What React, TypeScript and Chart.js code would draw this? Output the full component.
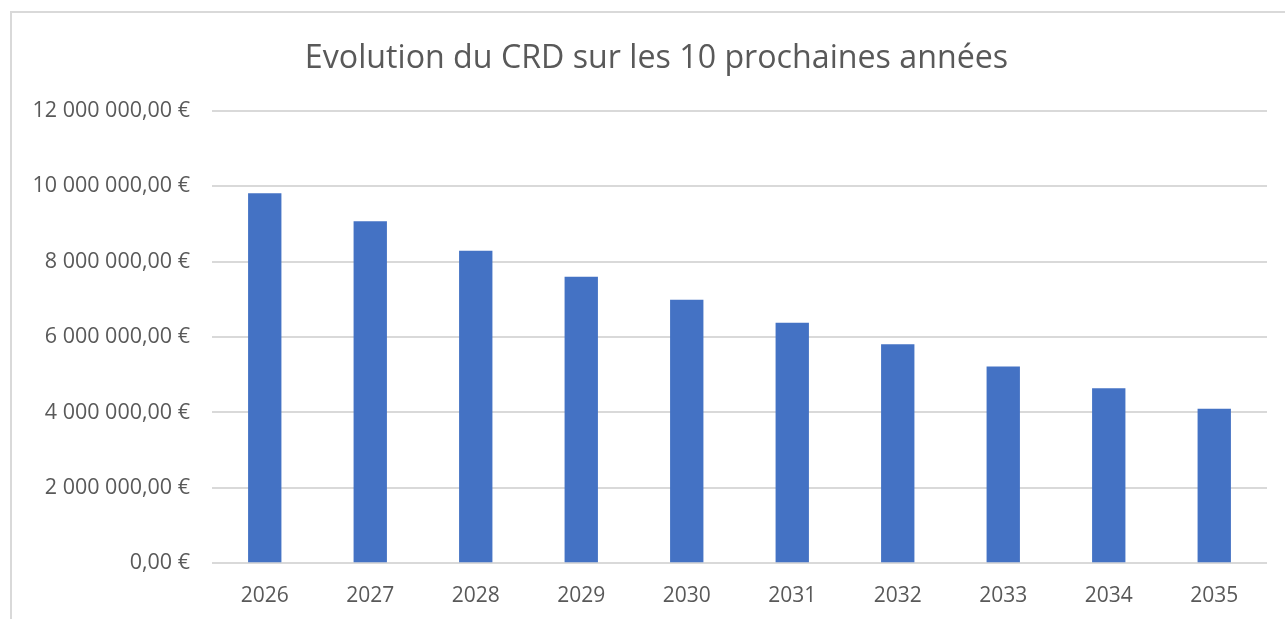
import React, { useEffect, useRef } from "react";
import { Chart, registerables } from "chart.js";

Chart.register(...registerables);

const TITLE = "Evolution du CRD sur les 10 prochaines années";
const years = ["2026", "2027", "2028", "2029", "2030", "2031", "2032", "2033", "2034", "2035"];
const crd = [9810000, 9070000, 8290000, 7600000, 6990000, 6380000, 5810000, 5220000, 4640000, 4100000];
const yMin = 0;
const yMax = 12000000;
const yStep = 2000000;

function formatEuro(v: number): string {
  const [intPart, dec] = Math.abs(v).toFixed(2).split(".");
  const grouped = intPart.replace(/\B(?=(\d{3})+(?!\d))/g, " ");
  return grouped + "," + dec + " €";
}

const titlePlugin = {
  id: "offsetTitle",
  afterDraw(chart: any) {
    const ctx = chart.ctx as CanvasRenderingContext2D;
    ctx.save();
    ctx.font = "normal 32.2px 'Open Sans'";
    ctx.fillStyle = "#595959";
    ctx.textAlign = "center";
    ctx.textBaseline = "middle";
    ctx.fillText(TITLE, (chart.width + 28) / 2, 58.8);
    ctx.restore();
  },
};

export default function App() {
  const ref = useRef<HTMLCanvasElement | null>(null);

  useEffect(() => {
    if (!ref.current) return;
    const chart = new Chart(ref.current, {
      type: "bar",
      data: {
        labels: years,
        datasets: [
          {
            data: crd,
            backgroundColor: "#4472C4",
            borderWidth: 0,
            barPercentage: 0.316,
            categoryPercentage: 1,
          },
        ],
      },
      plugins: [titlePlugin],
      options: {
        animation: false,
        responsive: false,
        maintainAspectRatio: false,
        layout: { padding: { left: 0, right: 18, top: 110.7, bottom: 0 } },
        plugins: {
          legend: { display: false },
          tooltip: { enabled: false },
          title: { display: false },
        },
        scales: {
          x: {
            grid: { display: false, drawTicks: false },
            border: { display: false },
            ticks: {
              color: "#595959",
              font: { family: "'Open Sans'", size: 21 },
              padding: 20,
              maxRotation: 0,
            },
            afterFit: (s: any) => {
              s.height = 55.7;
            },
          },
          y: {
            min: yMin,
            max: yMax,
            grid: { color: "#d9d9d9", lineWidth: 2, drawTicks: false },
            border: { display: false },
            ticks: {
              stepSize: yStep,
              color: "#595959",
              font: { family: "'Open Sans'", size: 21.5 },
              padding: 22,
              callback: (v: any) => formatEuro(Number(v)),
            },
            afterFit: (s: any) => {
              s.width = 212;
            },
          },
        },
      },
    });
    return () => chart.destroy();
  }, []);

  return (
    <div
      style={{
        position: "fixed",
        left: 0,
        top: 0,
        width: 1285,
        height: 619,
        overflow: "hidden",
        background: "#ffffff",
      }}
    >
      <div
        style={{
          position: "absolute",
          left: 10,
          top: 11,
          width: 1400,
          height: 800,
          border: "2px solid #d9d9d9",
        }}
      />
      <canvas
        ref={ref}
        width={1285}
        height={619}
        style={{ position: "absolute", left: 0, top: 0, width: 1285, height: 619 }}
      />
    </div>
  );
}
